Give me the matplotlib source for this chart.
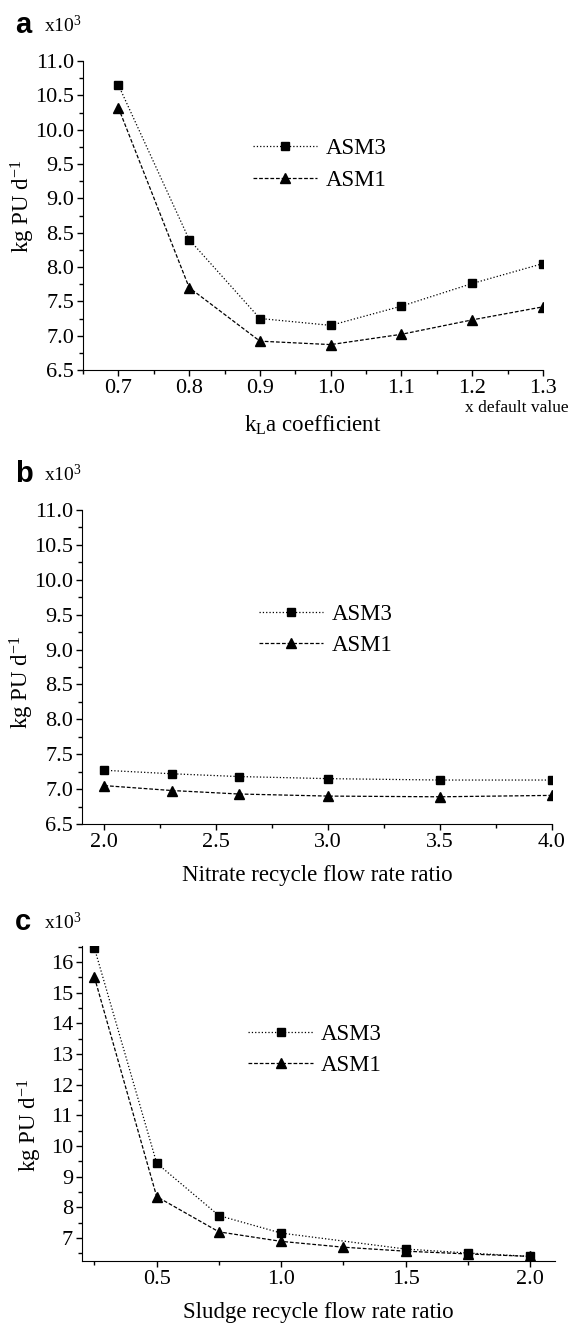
import matplotlib
matplotlib.use('Agg')
import matplotlib.pyplot as plt
from matplotlib.ticker import MultipleLocator, FormatStrFormatter

plt.rcParams['font.family'] = ['Liberation Serif', 'DejaVu Serif']
plt.rcParams['mathtext.fontset'] = 'custom'
plt.rcParams['mathtext.rm'] = 'Liberation Serif'
plt.rcParams['mathtext.it'] = 'Liberation Serif'

# panel a: kLa coefficient
kla_x = [0.7, 0.8, 0.9, 1.0, 1.1, 1.2, 1.3]
kla_asm3 = [10.65, 8.40, 7.25, 7.15, 7.43, 7.76, 8.05]
kla_asm1 = [10.32, 7.70, 6.92, 6.87, 7.02, 7.23, 7.42]

# panel b: nitrate recycle
nit_x = [2.0, 2.3, 2.6, 3.0, 3.5, 4.0]
nit_asm3 = [7.27, 7.22, 7.18, 7.15, 7.13, 7.13]
nit_asm1 = [7.05, 6.98, 6.93, 6.90, 6.89, 6.91]

# panel c: sludge recycle
slu_x3 = [0.25, 0.5, 0.75, 1.0, 1.5, 1.75, 2.0]
slu_asm3 = [16.45, 9.44, 7.73, 7.16, 6.64, 6.51, 6.40]
slu_x1 = [0.25, 0.5, 0.75, 1.0, 1.25, 1.5, 1.75, 2.0]
slu_asm1 = [15.50, 8.35, 7.20, 6.89, 6.70, 6.57, 6.48, 6.40]

W, H = 571, 1326
fig = plt.figure(figsize=(W / 100, H / 100), dpi=100)


def box(l, r, t, b):
    return [l / W, 1 - b / H, (r - l) / W, (b - t) / H]


def style(ax):
    for s in ['top', 'right']:
        ax.spines[s].set_visible(False)
    ax.tick_params(which='major', direction='out', length=4.5, width=1, labelsize=16, pad=2)
    ax.tick_params(which='minor', direction='out', length=3, width=1)


def draw(ax, x3, y3, x1, y1, leg_xy, lab_xy):
    ax.plot(x3, y3, ls=':', lw=0.9, color='black', marker='s', ms=5.5, label='ASM3')
    ax.plot(x1, y1, ls='--', lw=0.9, color='black', marker='^', ms=7, label='ASM1', dashes=(3, 1.5))
    ax.legend(loc='center left', bbox_to_anchor=leg_xy, frameon=False, fontsize=16.5,
              handlelength=2.8, handletextpad=0.35, borderpad=0, borderaxespad=0,
              labelspacing=0.45)
    ax.set_ylabel('kg PU d$^{\\mathregular{-1}}$', fontsize=16.5)
    ax.yaxis.set_label_coords(*lab_xy)


def letter(y, ch):
    fig.text(15 / W, 1 - y / H, ch, family='Liberation Sans', weight='bold', fontsize=21, va='baseline')
    fig.text(44 / W, 1 - (y - 1) / H, 'x10$^{\\mathregular{3}}$', fontsize=14, va='baseline')


# a
ax1 = fig.add_axes(box(83, 543, 61, 370))
draw(ax1, kla_x, kla_asm3, kla_x, kla_asm1, (0.37, 0.665), (-0.1, 0.53))
ax1.set_xlim(0.65, 1.3)
ax1.set_ylim(6.5, 11.0)
ax1.xaxis.set_major_locator(MultipleLocator(0.1))
ax1.xaxis.set_minor_locator(MultipleLocator(0.05))
ax1.yaxis.set_major_locator(MultipleLocator(0.5))
ax1.yaxis.set_minor_locator(MultipleLocator(0.25))
ax1.xaxis.set_major_formatter(FormatStrFormatter('%.1f'))
ax1.yaxis.set_major_formatter(FormatStrFormatter('%.1f'))
style(ax1)
ax1.set_xlabel('k$_{\\mathregular{L}}$a coefficient', fontsize=16.5, labelpad=11)
fig.text(569 / W, 1 - 408 / H, 'x default value', fontsize=12.5, ha='right', va='center')
letter(33, 'a')

# b
ax2 = fig.add_axes(box(82, 552, 510, 824))
draw(ax2, nit_x, nit_asm3, nit_x, nit_asm1, (0.377, 0.617), (-0.098, 0.45))
ax2.set_xlim(1.9, 4.0)
ax2.set_ylim(6.5, 11.0)
ax2.xaxis.set_major_locator(MultipleLocator(0.5))
ax2.xaxis.set_minor_locator(MultipleLocator(0.25))
ax2.yaxis.set_major_locator(MultipleLocator(0.5))
ax2.yaxis.set_minor_locator(MultipleLocator(0.25))
ax2.xaxis.set_major_formatter(FormatStrFormatter('%.1f'))
ax2.yaxis.set_major_formatter(FormatStrFormatter('%.1f'))
style(ax2)
ax2.set_xlabel('Nitrate recycle flow rate ratio', fontsize=16.5, labelpad=9)
letter(482, 'b')

# c
ax3 = fig.add_axes(box(82, 555, 946, 1261))
draw(ax3, slu_x3, slu_asm3, slu_x1, slu_asm1, (0.352, 0.67), (-0.08, 0.43))
ax3.set_xlim(0.2, 2.1)
ax3.set_ylim(6.25, 16.52)
ax3.xaxis.set_major_locator(MultipleLocator(0.5))
ax3.xaxis.set_minor_locator(MultipleLocator(0.25))
ax3.yaxis.set_major_locator(MultipleLocator(1))
ax3.yaxis.set_minor_locator(MultipleLocator(0.5))
ax3.xaxis.set_major_formatter(FormatStrFormatter('%.1f'))
ax3.yaxis.set_major_formatter(FormatStrFormatter('%d'))
ax3.set_xticks([0.5, 1.0, 1.5, 2.0])
style(ax3)
ax3.set_xlabel('Sludge recycle flow rate ratio', fontsize=16.5, labelpad=9)
letter(930, 'c')

fig.savefig('out.png', dpi=100)
